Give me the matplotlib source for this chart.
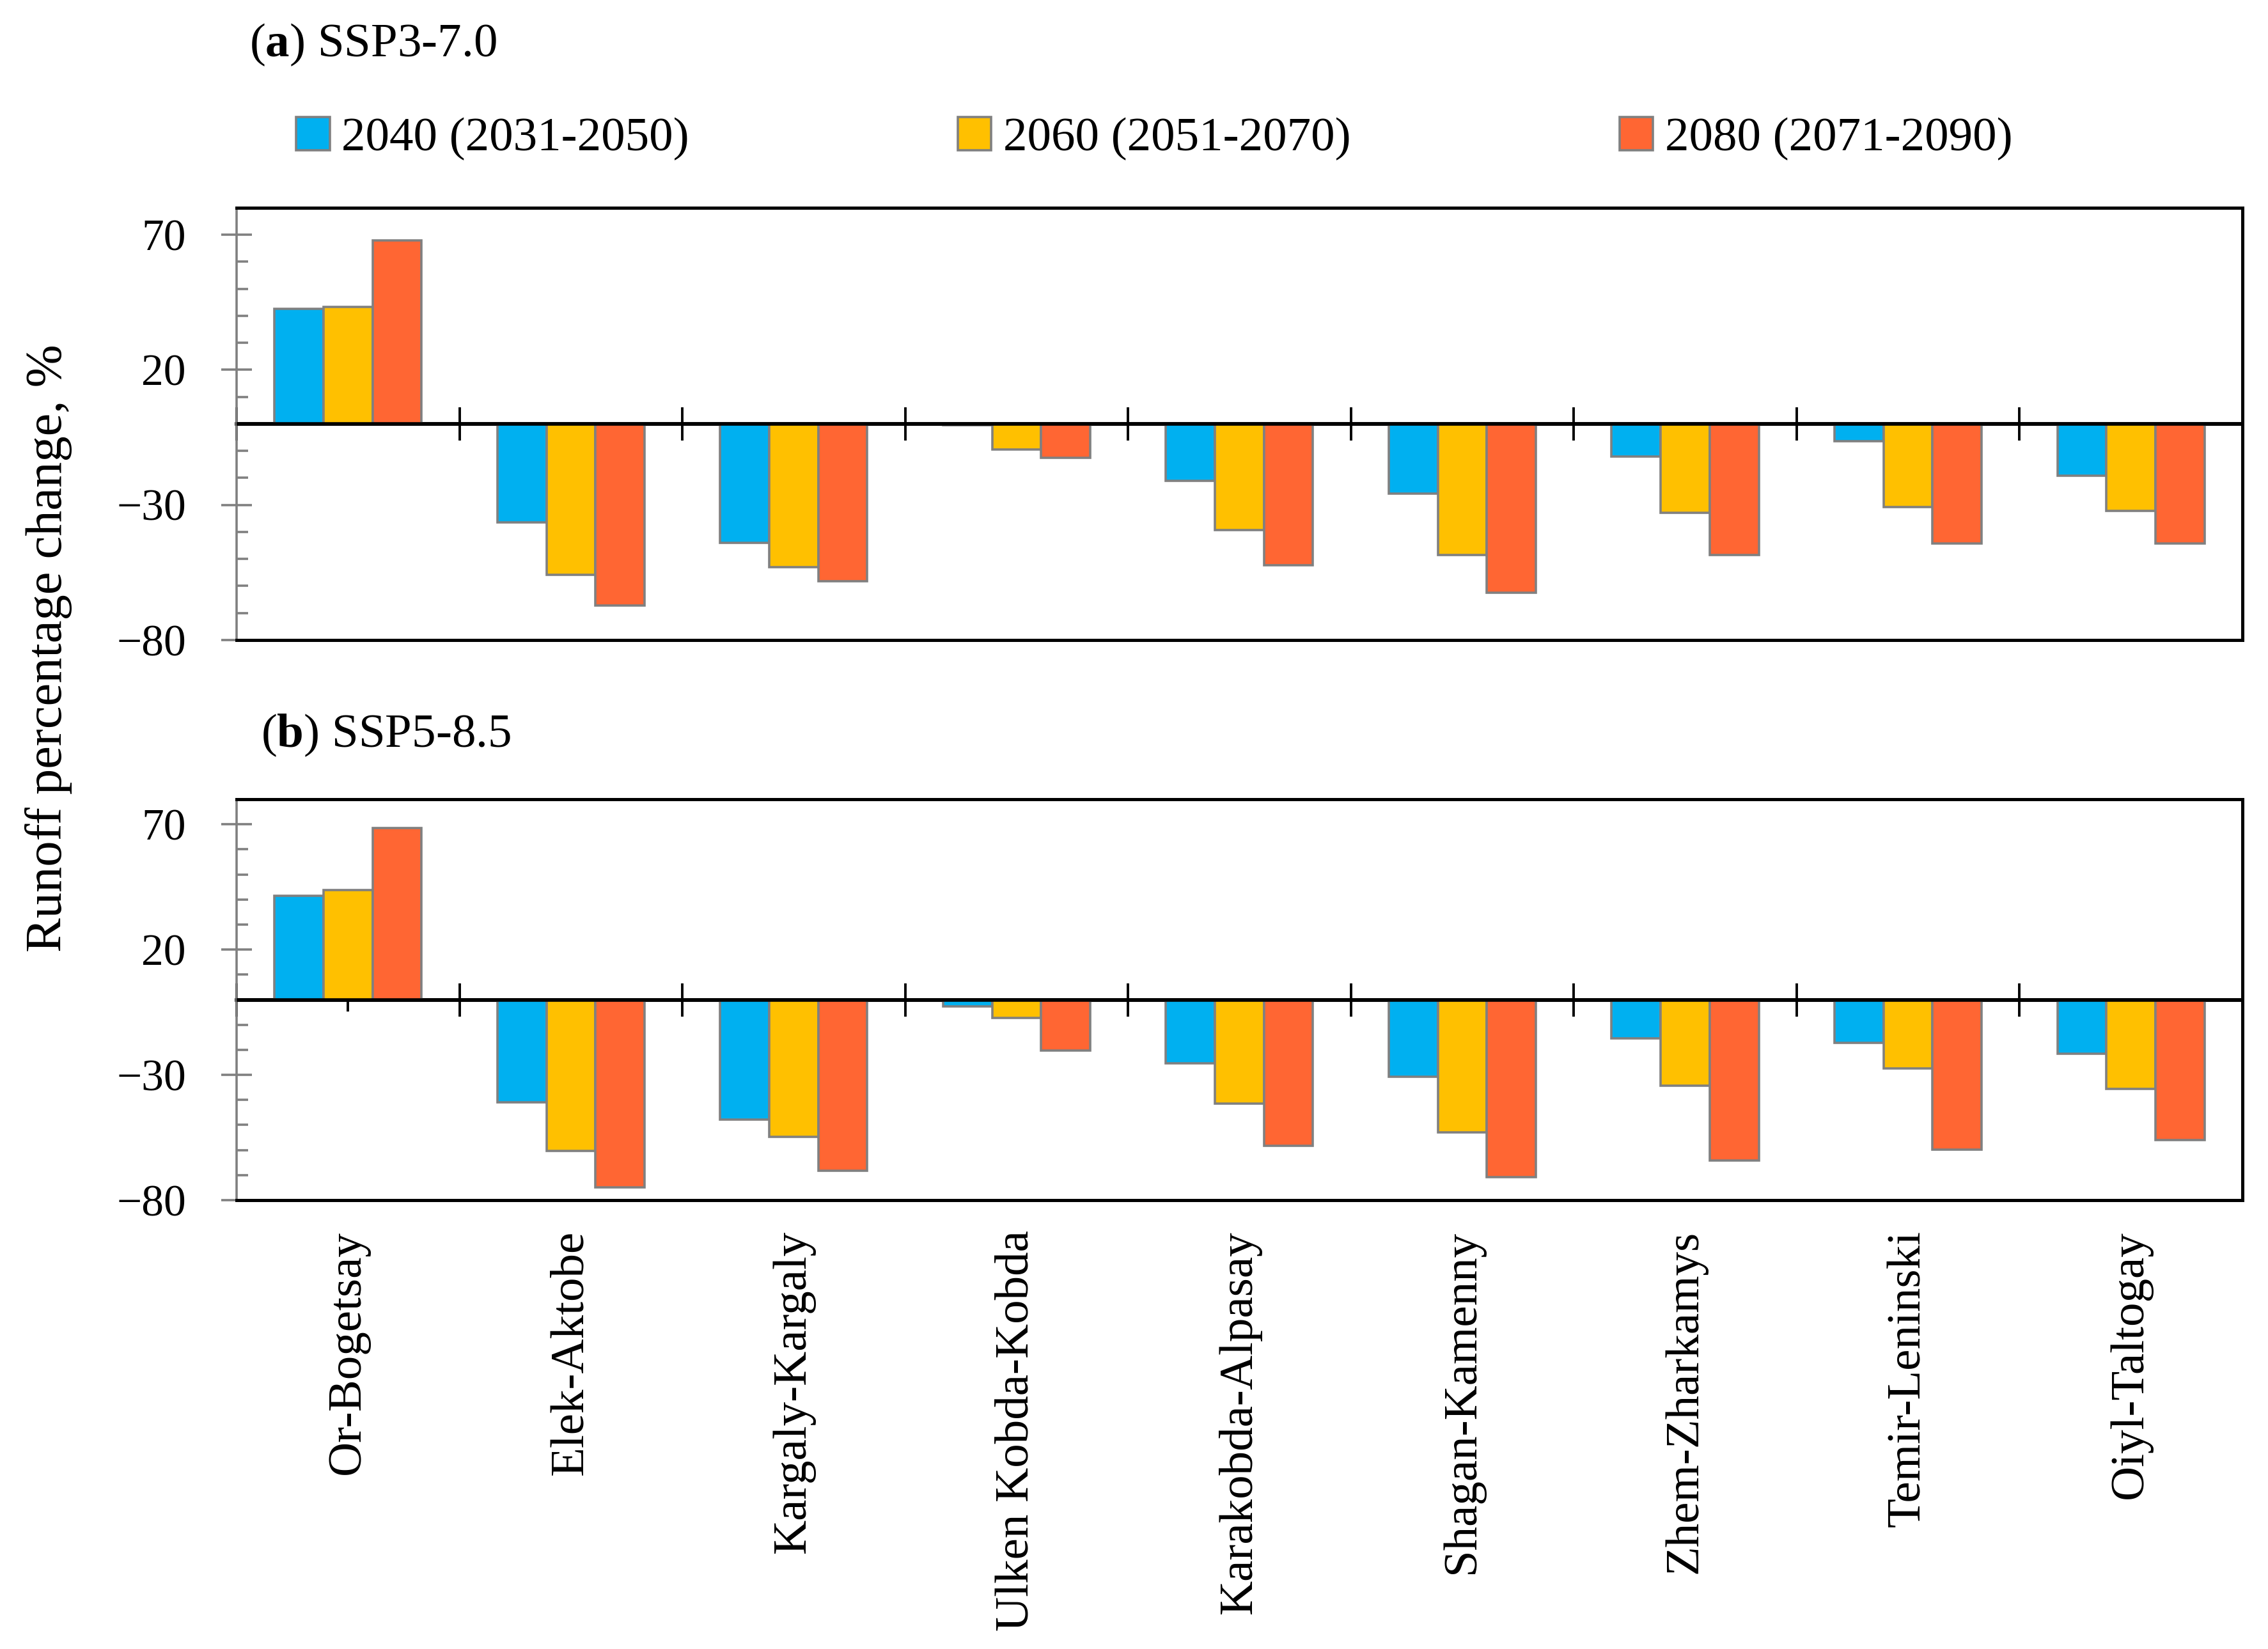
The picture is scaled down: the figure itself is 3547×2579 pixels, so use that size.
import numpy as np
import matplotlib
matplotlib.use('Agg')
import matplotlib.pyplot as plt
from matplotlib.ticker import MultipleLocator

plt.rcParams['font.family'] = ['Liberation Serif', 'DejaVu Serif']
plt.rcParams['mathtext.fontset'] = 'custom'
plt.rcParams['mathtext.rm'] = 'Liberation Serif'
plt.rcParams['mathtext.bf'] = 'Liberation Serif:bold'

# basins
cats = ['Or-Bogetsay', 'Elek-Aktobe', 'Kargaly-Kargaly', 'Ulken Kobda-Kobda',
        'Karakobda-Alpasay', 'Shagan-Kamenny', 'Zhem-Zharkamys',
        'Temir-Leninski', 'Oiyl-Taltogay']
periods = ['2040 (2031-2050)', '2060 (2051-2070)', '2080 (2071-2090)']

# (a) SSP3-7.0
ssp370_2040 = [42.5, -36.5, -44.0, -0.5, -21.2, -25.9, -12.2, -6.5, -19.3]
ssp370_2060 = [43.2, -55.8, -53.0, -9.4, -39.4, -48.5, -32.9, -30.7, -32.3]
ssp370_2080 = [68.0, -67.3, -58.2, -12.6, -52.4, -62.6, -48.6, -44.3, -44.3]

# (b) SSP5-8.5
ssp585_2040 = [41.5, -40.9, -47.9, -2.6, -25.4, -30.7, -15.5, -17.1, -21.5]
ssp585_2060 = [43.7, -60.4, -54.8, -7.2, -41.4, -53.0, -34.4, -27.4, -35.5]
ssp585_2080 = [68.5, -74.8, -68.3, -20.2, -58.3, -70.9, -64.2, -59.8, -56.0]

colors = ['#00B0F0', '#FFC000', '#FF6633']
edge = '#808080'

W, H, DPI = 3548, 2579, 200
fig = plt.figure(figsize=(W / DPI, H / DPI), dpi=DPI)

ax_a = fig.add_axes([0.1043, 0.6119, 0.8841, 0.2621])
ax_b = fig.add_axes([0.1043, 0.2722, 0.8841, 0.2431])

x = np.arange(len(cats))
bw = 0.22


def draw_panel(ax, series, center_ticks, show_labels):
    bars = []
    for i, (vals, col, lab) in enumerate(zip(series, colors, periods)):
        b = ax.bar(x + (i - 1) * bw, vals, bw, color=col, edgecolor=edge,
                   linewidth=1.3, label=lab, zorder=2)
        bars.append(b)
    ax.set_xlim(-0.5, len(cats) - 0.5)
    ax.set_ylim(-80, 80)
    ax.set_yticks([-80, -30, 20, 70])
    ax.yaxis.set_minor_locator(MultipleLocator(10))
    ax.tick_params(axis='y', which='major', direction='inout', length=17,
                   width=1.3, color=edge, labelsize=25, pad=20)
    ax.tick_params(axis='y', which='minor', direction='in', length=6.5,
                   width=1.3, color=edge)
    for s in ['top', 'bottom', 'right']:
        ax.spines[s].set_color('black')
        ax.spines[s].set_linewidth(1.8)
    ax.spines['left'].set_color(edge)
    ax.spines['left'].set_linewidth(1.3)

    ax.set_xticks(x)
    ax.tick_params(axis='x', which='both', length=0, pad=17)
    if show_labels:
        ax.set_xticklabels(cats, rotation=90, fontsize=27, va='top')
    else:
        ax.set_xticklabels([])

    # zero line with category separators
    ax.axhline(0, color='black', linewidth=2.0, zorder=3)
    sec = ax.secondary_xaxis(0, transform=ax.transData)
    sec.spines['bottom'].set_linewidth(2.0)
    sec.spines['top'].set_linewidth(2.0)
    sec.set_xticks(np.arange(len(cats) + 1) - 0.5, minor=True)
    sec.tick_params(which='minor', direction='inout', length=19, width=1.4,
                    color='black')
    sec.set_xticks(x)
    if center_ticks:
        sec.tick_params(which='major', direction='out', length=6.5,
                        width=1.4, color='black', labelbottom=False)
    else:
        sec.tick_params(which='major', length=0, labelbottom=False)
    return bars


bars_a = draw_panel(ax_a, [ssp370_2040, ssp370_2060, ssp370_2080], False, False)
draw_panel(ax_b, [ssp585_2040, ssp585_2060, ssp585_2080], True, True)

fig.text(390 / W, 1 - 70 / H, r'($\mathbf{a}$) SSP3-7.0', fontsize=27,
         ha='left', va='center')
fig.text(408 / W, 1 - 1150 / H, r'($\mathbf{b}$) SSP5-8.5', fontsize=27,
         ha='left', va='center')
fig.text(76 / W, 1 - 1014 / H, 'Runoff percentage change, %', fontsize=29,
         rotation=90, ha='center', va='center')

fig.legend(handles=bars_a, labels=periods, loc='center left',
           bbox_to_anchor=(463 / W, 1 - 217 / H), ncol=3, frameon=False,
           fontsize=27, handlelength=0.7, handleheight=0.7,
           handletextpad=0.25, columnspacing=5.6, borderpad=0,
           borderaxespad=0)

fig.savefig('out.png', dpi=DPI)
